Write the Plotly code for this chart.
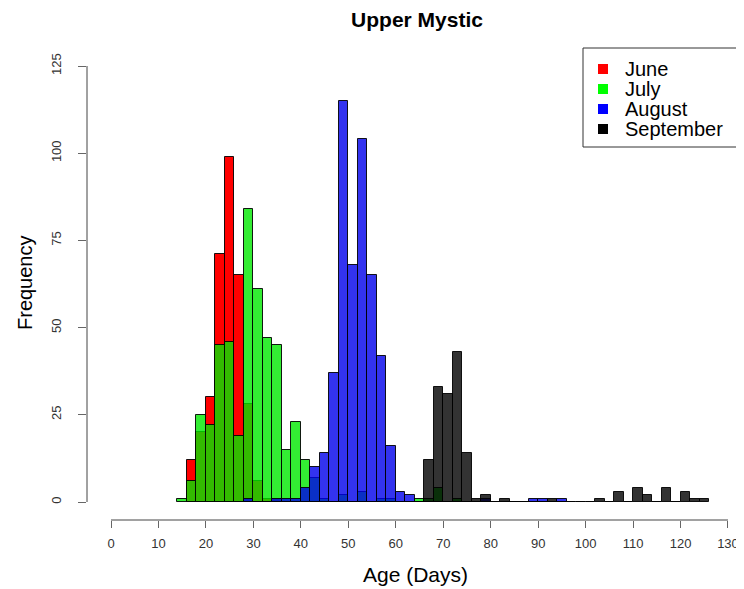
import plotly.graph_objects as go

# ---- data (histogram counts, bin width 2 days) ----
bin_width = 2
june_start = 16
june_counts = [12, 20, 30, 71, 99, 65, 28, 6, 1, 1]
july_start = 14
july_counts = [1, 6, 25, 22, 45, 46, 19, 84, 61, 47, 45, 15, 23, 12, 7, 1, 0, 2, 0, 3,
               0, 1, 1, 0, 0, 1, 1, 4, 0, 1]
august_start = 28
august_counts = [1, 0, 0, 1, 1, 1, 4, 10, 14, 37, 115, 68, 104, 65, 42, 16, 3, 2, 0, 0,
                 0, 0, 0, 0, 0, 1, 0, 0, 0, 0, 1, 1, 0, 1]
september_start = 66
september_counts = [12, 33, 31, 43, 14, 1, 2, 0, 1, 0, 0, 0, 0, 1, 0, 0, 0, 0, 1, 0,
                    3, 0, 4, 2, 0, 4, 0, 3, 1, 1]

months = ["June", "July", "August", "September"]
x_ticks = list(range(0, 131, 10))
y_ticks = list(range(0, 126, 25))

fills = ["rgb(255,0,0)", "rgba(0,232,0,0.8)", "rgba(0,0,235,0.8)", "rgba(0,0,0,0.8)"]
solids = ["rgb(255,0,0)", "rgb(0,255,0)", "rgb(0,0,255)", "rgb(0,0,0)"]
starts = [june_start, july_start, august_start, september_start]
counts_all = [june_counts, july_counts, august_counts, september_counts]

# page offset (default body margin of the html page)
OFF = 8
# plot-area geometry in screenshot pixels
L, R, T, B = 87, 743, 40, 520
W, H = 744, 589


def px(x):
    return (x - L) / (R - L)


def py(y):
    return (B - y) / (B - T)


fig = go.Figure()
for name, start, counts, fill in zip(months, starts, counts_all, fills):
    centers = [start + bin_width * i + bin_width / 2 for i in range(len(counts))]
    fig.add_trace(go.Bar(
        x=centers, y=counts, width=bin_width, name=name, showlegend=False,
        marker=dict(color=fill, line=dict(color="rgba(0,0,0,0.9)", width=1)),
    ))

FONT = "Liberation Sans, Arial, sans-serif"

shapes = [
    dict(type="line", xref="x", yref="paper", x0=0, x1=130, y0=0, y1=0,
         line=dict(color="#444", width=1)),
    dict(type="line", xref="paper", yref="y", x0=0, x1=0, y0=0, y1=125,
         line=dict(color="#444", width=1)),
    # legend box
    dict(type="rect", xref="paper", yref="paper", x0=px(583), x1=px(746),
         y0=py(147), y1=py(48), line=dict(color="#333", width=1), fillcolor="white",
         layer="above"),
]
annotations = [
    dict(text="Age (Days)", xref="paper", yref="paper", x=px(416), y=py(574),
         xanchor="center", yanchor="middle", showarrow=False,
         font=dict(size=21, color="black")),
    dict(text="Frequency", xref="paper", yref="paper", x=px(25), y=py(283),
         xanchor="center", yanchor="middle", showarrow=False, textangle=-90,
         font=dict(size=20, color="black")),
]
row_y = [69, 89, 109, 129]
for name, solid, ry in zip(months, solids, row_y):
    shapes.append(dict(type="rect", xref="paper", yref="paper", x0=px(598), x1=px(608),
                       y0=py(ry + 5), y1=py(ry - 5), line=dict(width=0),
                       fillcolor=solid, layer="above"))
    annotations.append(dict(text=name, xref="paper", yref="paper", x=px(623), y=py(ry),
                            xanchor="left", yanchor="middle", showarrow=False,
                            font=dict(size=20, color="black")))

fig.update_layout(
    width=W, height=H,
    margin=dict(l=L - OFF, r=W - (R - OFF), t=T - OFF, b=H - (B - OFF)),
    paper_bgcolor="white", plot_bgcolor="white",
    barmode="overlay", bargap=0,
    font=dict(family=FONT, color="#222"),
    showlegend=False,
    title=dict(text="<b>Upper Mystic</b>", x=(417 - OFF) / W, xref="container",
               xanchor="center", y=1 - (20 - OFF) / H, yref="container",
               yanchor="middle", font=dict(size=21, color="black")),
    xaxis=dict(range=[(L - 111) / 4.746, (R - 111) / 4.746], tickmode="array",
               tickvals=x_ticks, ticks="outside", ticklen=7, tickcolor="#666",
               showgrid=False, zeroline=False, showline=False, automargin=False,
               tickfont=dict(size=13, color="#333"), ticklabelstandoff=4),
    yaxis=dict(range=[(502 - B) / 3.488, (502 - T) / 3.488], tickmode="array",
               tickvals=y_ticks, ticks="outside", ticklen=8, tickcolor="#666",
               showgrid=False, zeroline=False, showline=False, automargin=False,
               tickangle=-90, tickfont=dict(size=13, color="#333"),
               ticklabelstandoff=12),
    shapes=shapes,
    annotations=annotations,
)

fig.write_html("out.html")
